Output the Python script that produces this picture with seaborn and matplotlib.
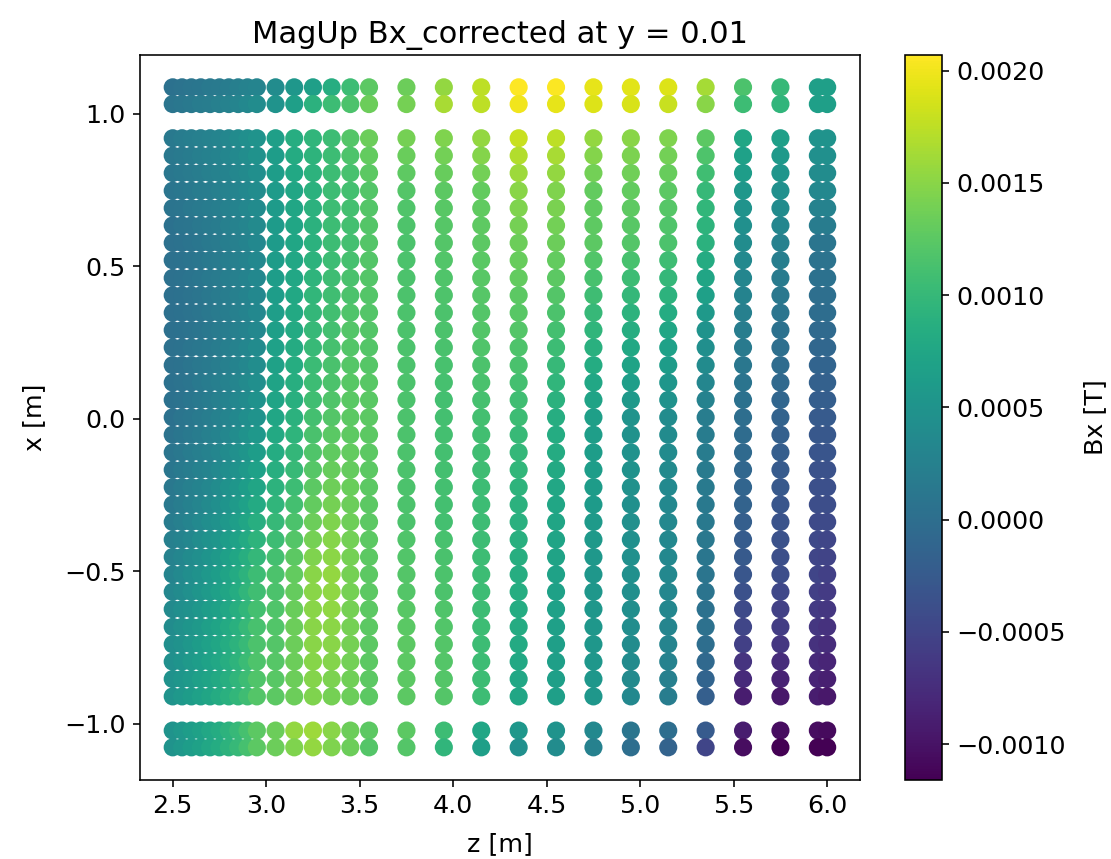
import numpy as np
import pandas as pd
import matplotlib
matplotlib.use("Agg")
import matplotlib.pyplot as plt
import seaborn as sns

# z positions of the measurement columns [m]
z_values = [2.5, 2.55, 2.6, 2.65, 2.7, 2.75, 2.8, 2.85, 2.9, 2.95,
            3.05, 3.15, 3.25, 3.35, 3.45, 3.55,
            3.75, 3.95, 4.15, 4.35, 4.55, 4.75, 4.95, 5.15, 5.35, 5.55, 5.75, 5.95, 6.0]

# x positions of the measurement rows [m] (top to bottom)
x_values = [1.087, 1.032,
            0.920, 0.863, 0.806, 0.748, 0.691, 0.634, 0.577, 0.520, 0.462, 0.405, 0.348,
            0.291, 0.234, 0.176, 0.119, 0.062, 0.005, -0.052, -0.110, -0.167, -0.224,
            -0.281, -0.338, -0.396, -0.453, -0.510, -0.567, -0.624, -0.682, -0.739,
            -0.796, -0.853, -0.910,
            -1.022, -1.077]

# Bx values in units of 1e-4 T, one row per x value, one entry per z value
bx_rows_1e4 = [
    [0.5,0.7,0.9,1.1,1.4,1.6,1.9,2.2,2.6,3.0, 4,5.5,6.5,8.5,10.5,12.5, 13.5,15.5,17.5,20.7,20.5,19.5,19.3,19,16.3,11.5,10,6.5,6.5],
    [1.0,1.2,1.5,1.8,2.0,2.3,2.7,3.0,3.5,4.0, 5,6.5,9,10.5,11.5,13.5, 14,16.5,17.5,20,19.5,19,18.7,18,15,10.5,9.5,6.5,6.5],
    [1.5,1.8,2.1,2.4,2.7,3.0,3.4,3.8,4.4,5.0, 6.5,8.5,9.5,10.5,12,13.5, 14,14.5,15.5,18,17.5,15.5,15,14.5,12.5,7.5,6.5,5,5],
    [1.3,1.6,1.8,2.2,2.5,2.8,3.2,3.6,4.1,4.7, 6.3,8.2,9.3,10.5,11.7,13, 13.3,13.8,14.7,17,16.5,14.7,14.3,13.8,11.7,6.8,5.8,4.5,4.5],
    [1.2,1.5,1.7,2.0,2.3,2.6,2.9,3.3,3.7,4.3, 6.2,7.8,9.2,10.5,11.3,12.5, 12.7,13.2,13.8,16,15.5,13.8,13.7,13.2,10.8,6.2,5.2,4,4],
    [1.0,1.2,1.5,1.8,2.0,2.3,2.7,3.0,3.5,4.0, 6,7.5,9,10.5,11,12, 12,12.5,13,15,14.5,13,13,12.5,10,5.5,4.5,3.5,3.5],
    [0.8,1.0,1.3,1.6,1.8,2.1,2.5,2.8,3.3,3.8, 6,7.5,9,10.5,11,12, 11.8,12.3,12.8,14.5,14.2,12.8,12.7,12.2,9.7,5,3.8,2.7,2.7],
    [0.5,0.8,1.0,1.3,1.6,1.9,2.3,2.6,3.1,3.7, 6,7.5,9,10.5,11,12, 11.7,12.2,12.7,14,13.8,12.7,12.3,11.8,9.3,4.5,3.2,1.8,1.8],
    [0.3,0.6,0.8,1.1,1.4,1.7,2.1,2.4,2.9,3.5, 6,7.5,9,10.5,11,12, 11.5,12,12.5,13.5,13.5,12.5,12,11.5,9,4,2.5,1,1],
    [0.3,0.6,0.8,1.1,1.4,1.7,2.1,2.4,2.9,3.5, 6.1,7.6,9.2,10.6,11.2,12, 11.5,11.9,12.4,13.2,13,11.9,11.3,10.7,8.2,3.6,2.1,0.7,0.7],
    [0.3,0.6,0.8,1.1,1.4,1.7,2.1,2.4,2.9,3.5, 6.2,7.7,9.4,10.7,11.4,12, 11.5,11.8,12.3,12.9,12.5,11.3,10.6,9.9,7.4,3.2,1.7,0.4,0.4],
    [0.2,0.5,0.7,1.0,1.3,1.7,2.0,2.4,2.9,3.5, 6.3,7.8,9.6,10.8,11.6,12, 11.5,11.7,12.2,12.6,12,10.7,9.9,9.1,6.6,2.8,1.3,0.1,0.1],
    [0.2,0.5,0.7,1.0,1.3,1.7,2.0,2.4,2.9,3.5, 6.4,7.9,9.8,10.9,11.8,12, 11.5,11.6,12.1,12.3,11.5,10.1,9.2,8.3,5.8,2.4,0.9,-0.2,-0.2],
    [0.2,0.5,0.7,1.0,1.3,1.7,2.0,2.4,2.9,3.5, 6.5,8,10,11,12,12, 11.5,11.5,12,12,11,9.5,8.5,7.5,5,2,0.5,-0.5,-0.5],
    [0.3,0.6,0.9,1.2,1.5,1.8,2.2,2.6,3.2,3.8, 6.7,8.2,10.2,11.2,12.1,12.1, 11.5,11.4,11.8,11.7,10.5,8.9,7.8,6.8,4.4,1.6,0.1,-0.9,-0.9],
    [0.3,0.6,0.9,1.3,1.6,2.0,2.4,2.9,3.4,4.1, 6.9,8.4,10.4,11.4,12.2,12.2, 11.5,11.3,11.6,11.4,10,8.3,7.1,6.1,3.8,1.2,-0.3,-1.3,-1.3],
    [0.4,0.7,1.0,1.4,1.8,2.2,2.6,3.1,3.7,4.4, 7.1,8.6,10.6,11.6,12.3,12.3, 11.5,11.2,11.4,11.1,9.5,7.7,6.4,5.4,3.2,0.8,-0.7,-1.7,-1.7],
    [0.4,0.7,1.1,1.5,1.9,2.3,2.8,3.3,3.9,4.7, 7.3,8.8,10.8,11.8,12.4,12.4, 11.5,11.1,11.2,10.8,9,7.1,5.7,4.7,2.6,0.4,-1.1,-2.1,-2.1],
    [0.5,0.9,1.2,1.6,2.0,2.5,3.0,3.5,4.2,5.0, 7.5,9,11,12,12.5,12.5, 11.5,11,11,10.5,8.5,6.5,5,4,2,0,-1.5,-2.5,-2.5],
    [0.7,1.1,1.5,1.9,2.4,2.9,3.4,4.0,4.7,5.6, 7.9,9.4,11.4,12.4,12.7,12.5, 11.5,11,10.9,10.2,8.3,6.4,4.9,3.9,1.9,-0.3,-1.8,-2.8,-2.8],
    [0.9,1.3,1.8,2.2,2.7,3.2,3.8,4.5,5.3,6.2, 8.3,9.8,11.8,12.8,12.9,12.5, 11.5,11,10.8,9.9,8.1,6.3,4.8,3.8,1.8,-0.6,-2.1,-3.1,-3.1],
    [1.1,1.6,2.0,2.5,3.0,3.6,4.2,4.9,5.8,6.8, 8.7,10.2,12.2,13.2,13.1,12.5, 11.5,11,10.7,9.6,7.9,6.2,4.7,3.7,1.7,-0.9,-2.4,-3.4,-3.4],
    [1.3,1.8,2.3,2.8,3.4,4.0,4.7,5.4,6.3,7.4, 9.1,10.6,12.6,13.6,13.3,12.5, 11.5,11,10.6,9.3,7.7,6.1,4.6,3.6,1.6,-1.2,-2.7,-3.7,-3.7],
    [1.5,2.0,2.5,3.1,3.7,4.4,5.1,5.9,6.8,8.0, 9.5,11,13,14,13.5,12.5, 11.5,11,10.5,9,7.5,6,4.5,3.5,1.5,-1.5,-3,-4,-4],
    [1.9,2.4,3.0,3.6,4.2,4.9,5.6,6.4,7.4,8.6, 10,11.5,13.5,14.4,13.6,12.5, 11.6,11.1,10.5,8.9,7.4,5.9,4.5,3.5,1.4,-1.9,-3.3,-4.3,-4.4],
    [2.3,2.9,3.4,4.1,4.7,5.4,6.2,7.0,8.0,9.3, 10.5,12,14,14.8,13.8,12.5, 11.8,11.3,10.5,8.8,7.3,5.8,4.5,3.5,1.3,-2.3,-3.5,-4.5,-4.8],
    [2.6,3.2,3.8,4.4,5.1,5.8,6.6,7.5,8.6,9.9, 11,12.5,14.5,15.1,13.9,12.5, 11.9,11.4,10.5,8.6,7.1,5.6,4.5,3.5,1.1,-2.6,-3.8,-4.8,-5.1],
    [3.0,3.6,4.2,4.9,5.6,6.3,7.1,8.0,9.2,10.5, 11.5,13,15,15.5,14,12.5, 12,11.5,10.5,8.5,7,5.5,4.5,3.5,1,-3,-4,-5,-5.5],
    [3.3,3.9,4.5,5.2,5.9,6.6,7.4,8.3,9.5,10.8, 11.6,13.1,15,15.4,14,12.5, 12.1,11.6,10.5,8.4,6.9,5.5,4.4,3.4,0.8,-3.6,-4.6,-5.5,-6],
    [3.7,4.3,4.9,5.5,6.2,6.9,7.7,8.6,9.7,11.0, 11.8,13.3,15,15.3,14,12.5, 12.3,11.8,10.5,8.3,6.8,5.5,4.3,3.3,0.5,-4.3,-5.3,-6,-6.5],
    [4.0,4.6,5.2,5.8,6.5,7.2,8.0,8.9,10.0,11.3, 11.9,13.4,15,15.1,14,12.5, 12.4,11.9,10.5,8.1,6.6,5.5,4.1,3.1,0.3,-4.9,-5.9,-6.5,-7],
    [4.3,4.9,5.5,6.1,6.8,7.5,8.3,9.1,10.2,11.5, 12,13.5,15,15,14,12.5, 12.5,12,10.5,8,6.5,5.5,4,3,0,-5.5,-6.5,-7,-7.5],
    [4.5,5.1,5.7,6.3,7.0,7.7,8.5,9.3,10.4,11.7, 12.2,13.5,14.8,14.7,13.8,12.5, 12.5,12,10.5,7.8,6.5,5.5,3.8,2.7,-0.7,-6.7,-7.5,-7.7,-8.2],
    [4.8,5.4,5.9,6.6,7.2,7.9,8.7,9.5,10.5,11.8, 12.3,13.5,14.7,14.3,13.7,12.5, 12.5,12,10.5,7.7,6.5,5.5,3.7,2.3,-1.3,-7.8,-8.5,-8.3,-8.8],
    [5.0,5.6,6.1,6.8,7.4,8.1,8.9,9.7,10.7,12.0, 12.5,13.5,14.5,14,13.5,12.5, 12.5,12,10.5,7.5,6.5,5.5,3.5,2,-2,-9,-9.5,-9,-9.5],
    [5.0,5.6,6.2,6.9,7.6,8.3,9.1,10.0,11.2,12.5, 13.5,15.5,16,15,13.5,12.5, 12.5,10.5,7.5,5.5,5,3.5,1,0,-2.5,-9,-10.5,-10.5,-10.8],
    [5.0,5.6,6.2,6.9,7.6,8.3,9.1,10.0,11.2,12.5, 13.5,14.5,15.5,14.5,13.5,12, 12,9.5,6.5,4.5,4,2.5,0,-1.5,-5,-10.5,-11.5,-11.6,-11.6],
]

# ---- build long-form table ----
records = []
for xv, row in zip(x_values, bx_rows_1e4):
    for zv, b in zip(z_values, row):
        records.append({"z": zv, "x": xv, "Bx": b * 1e-4})
df = pd.DataFrame(records)

plt.rcParams["font.size"] = 12.7

vmin, vmax = df["Bx"].min(), df["Bx"].max()
norm = matplotlib.colors.Normalize(vmin=vmin, vmax=vmax)

fig = plt.figure(figsize=(1111 / 144, 859 / 144), dpi=144)
ax = fig.add_axes([0.126, 0.092, 0.648, 0.844])
cax = fig.add_axes([0.8146, 0.092, 0.0333, 0.844])

sns.scatterplot(data=df, x="z", y="x", hue="Bx", palette="viridis",
                hue_norm=norm, s=82, linewidth=0, legend=False, ax=ax)

ax.set_xlim(2.325, 6.175)
ax.set_ylim(-1.184, 1.193)
ax.set_xlabel("z [m]", labelpad=7)
ax.set_ylabel("x [m]", labelpad=9)
ax.set_title("MagUp Bx_corrected at y = 0.01")

sm = matplotlib.cm.ScalarMappable(norm=norm, cmap="viridis")
sm.set_array([])
cb = fig.colorbar(sm, cax=cax)
cb.set_label("Bx [T]", labelpad=9)

fig.savefig("out.png", dpi=144)
